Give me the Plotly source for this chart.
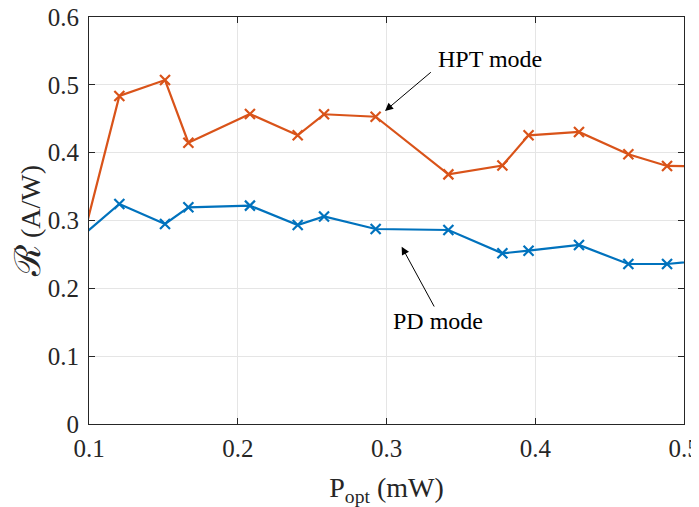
import plotly.graph_objects as go

# Data (x in mW, responsivity in A/W); first/last points lie just outside the axis range
p_opt = [0.085, 0.1204, 0.1511, 0.1668, 0.2082, 0.2403, 0.2580, 0.2927,
         0.3416, 0.3779, 0.3955, 0.4294, 0.4626, 0.4886, 0.52]
hpt_mode = [0.179, 0.4836, 0.507, 0.4147, 0.457, 0.4256, 0.4566, 0.453,
            0.368, 0.381, 0.4256, 0.4305, 0.3976, 0.3804, 0.3797]
pd_mode = [0.258, 0.3243, 0.2949, 0.3194, 0.3219, 0.2934, 0.306, 0.2875,
           0.286, 0.2516, 0.2555, 0.2639, 0.2359, 0.2359, 0.2427]

x_ticks = [0.1, 0.2, 0.3, 0.4, 0.5]
x_ticktext = ["0.1", "0.2", "0.3", "0.4", "0.5"]
y_ticks = [0, 0.1, 0.2, 0.3, 0.4, 0.5, 0.6]
y_ticktext = ["0", "0.1", "0.2", "0.3", "0.4", "0.5", "0.6"]

BLUE = "#0072BD"
ORANGE = "#D95319"
FONT = "Liberation Serif"

fig = go.Figure()
for y, c in [(pd_mode, BLUE), (hpt_mode, ORANGE)]:
    fig.add_trace(go.Scatter(
        x=p_opt, y=y, mode="lines+markers",
        line=dict(color=c, width=2.2),
        marker=dict(symbol="x-thin", size=10, color=c, line=dict(color=c, width=2.2)),
        showlegend=False, cliponaxis=True,
    ))

axis_common = dict(
    showline=True, linecolor="#262626", linewidth=1, mirror="ticks",
    ticks="inside", ticklen=6, tickcolor="#262626", automargin=False,
    ticklabeloverflow="allow",
    showgrid=True, gridcolor="#e5e5e5", gridwidth=1, zeroline=False,
    tickfont=dict(family=FONT, size=25, color="#262626"),
)

# page body has an 8px margin, so the figure is offset by (8, 8)
fig.update_layout(
    width=699, height=507,
    margin=dict(l=81, r=23, t=9, b=91),
    paper_bgcolor="white", plot_bgcolor="white",
    xaxis=dict(range=[0.1, 0.5], tickvals=x_ticks, ticktext=x_ticktext,
               ticklabelstandoff=2,
               title=dict(text="P<sub>opt</sub> (mW)", font=dict(family=FONT, size=28, color="#262626"),
                          standoff=16),
               **axis_common),
    yaxis=dict(range=[0, 0.6], tickvals=y_ticks, ticktext=y_ticktext,
               ticklabelstandoff=4,
               title=dict(text="<span style='font-size:36px'>ℛ</span> (A/W)",
                          font=dict(family=FONT, size=28, color="#262626"),
                          standoff=5),
               **axis_common),
)

# Arrows
fig.add_annotation(x=0.299, y=0.4615, ax=0.3308, ay=0.5204, xref="x", yref="y",
                   axref="x", ayref="y", text="", showarrow=True, arrowhead=2,
                   arrowsize=1.6, arrowwidth=1, arrowcolor="black", standoff=0, startstandoff=0)
fig.add_annotation(x=0.3102, y=0.2614, ax=0.3326, ay=0.171, xref="x", yref="y",
                   axref="x", ayref="y", text="", showarrow=True, arrowhead=2,
                   arrowsize=1.6, arrowwidth=1, arrowcolor="black", standoff=0, startstandoff=0)
# Labels
fig.add_annotation(x=0.3696, y=0.538, xref="x", yref="y", text="HPT mode", showarrow=False,
                   font=dict(family=FONT, size=24, color="black"))
fig.add_annotation(x=0.3343, y=0.152, xref="x", yref="y", text="PD mode", showarrow=False,
                   font=dict(family=FONT, size=24, color="black"))

fig.write_html("out.html")
